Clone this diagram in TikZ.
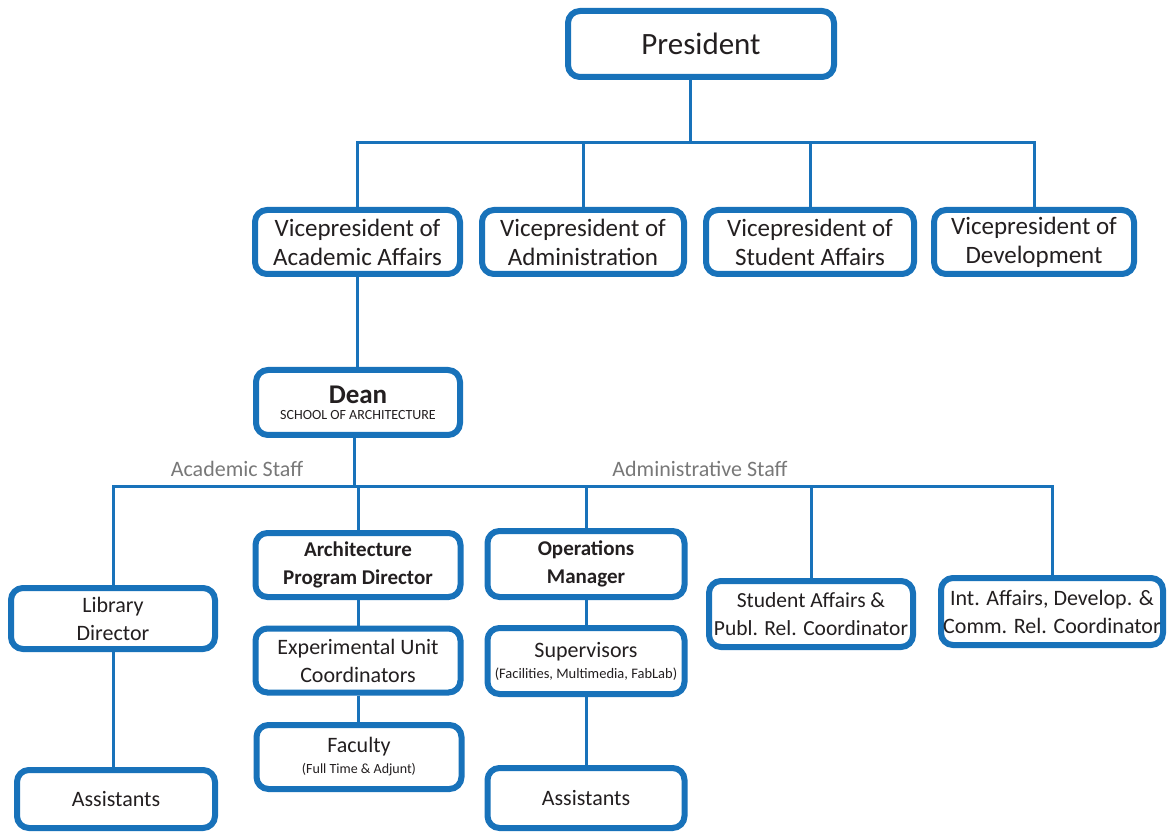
\documentclass[tikz,border=0pt]{standalone}
\usepackage{fontspec}
\setmainfont{Carlito}
\usetikzlibrary{positioning}
\definecolor{orgblue}{RGB}{24,114,186}
\definecolor{orgtext}{RGB}{35,31,32}
\definecolor{staffgray}{RGB}{120,120,120}
\newcommand{\orgsize}[2]{\fontsize{#1}{#2}\selectfont}

\begin{document}
\begin{tikzpicture}[x=1pt,y=-1pt,
  box/.style={draw=orgblue, line width=6pt, rounded corners=12pt, fill=white,
    align=center, text=orgtext, inner sep=0pt, font=\orgsize{22}{28}},
  vpbox/.style={box, minimum height=64pt, font=\orgsize{25}{29}},
  link/.style={draw=orgblue, line width=3pt},
  staff/.style={text=staffgray, inner sep=0pt, font=\orgsize{22}{26}}]
\useasboundingbox (0,0) rectangle (1171,834);

\node[box, minimum width=266pt, minimum height=66pt, font=\orgsize{31}{36}] (pres) at (701,44) {President};

\node[vpbox, minimum width=205pt] (vpa) at (357.5,242) {Vicepresident of\\Academic Affairs};
\node[vpbox, minimum width=202pt] (vpb) at (583,242) {Vicepresident of\\Administration};
\node[vpbox, minimum width=208pt] (vpc) at (810,242) {Vicepresident of\\Student Affairs};
\node[vpbox, minimum width=200pt] (vpd) at (1034,242) {Vicepresident of\\Development};

\node[box, minimum width=204pt, minimum height=65pt, font=\orgsize{27}{27}\bfseries] (dean) at (358,402.5) {Dean\\[-11pt]\mdseries\orgsize{14}{16}SCHOOL OF ARCHITECTURE};

\node[staff] (acad) at (237,469) {Academic Staff};
\node[staff] (admin) at (700,469) {Administrative Staff};

\node[box, minimum width=204pt, minimum height=61pt] (lib) at (113,618.5) {Library\\Director};
\node[box, minimum width=198pt, minimum height=58pt] (asst1) at (116,799) {Assistants};

\node[box, minimum width=205pt, minimum height=64pt, font=\orgsize{21}{28}\bfseries] (apd) at (358,565) {Architecture\\Program Director};
\node[box, minimum width=205pt, minimum height=64pt] (euc) at (358,660.5) {Experimental Unit\\Coordinators};
\node[box, minimum width=205pt, minimum height=64pt, font=\orgsize{22}{22}] (fac) at (359,757) {Faculty\\[-1pt]\orgsize{14}{17}(Full Time \& Adjunt)};

\node[box, minimum width=197pt, minimum height=66pt, font=\orgsize{21}{28}\bfseries] (ops) at (586,564) {Operations\\Manager};
\node[box, minimum width=197pt, minimum height=66pt, font=\orgsize{22}{22}] (sup) at (586,661) {Supervisors\\[-1pt]\orgsize{14.5}{17}(Facilities, Multimedia, FabLab)};
\node[box, minimum width=197pt, minimum height=60pt] (asst2) at (586,798) {Assistants};

\node[box, minimum width=204pt, minimum height=66pt, font=\orgsize{21.5}{28}] (saf) at (811,614) {Student Affairs \&\\Publ. Rel. Coordinator};
\node[box, minimum width=222pt, minimum height=67pt] (iaf) at (1052,611.5) {Int. Affairs, Develop. \&\\Comm. Rel. Coordinator};

\coordinate (topbus) at (690,143);
\coordinate (lowbus) at (354,486);

\begin{scope}[on background layer/.try]
\draw[link] (topbus) -- (topbus |- pres.south);
\draw[link] (vpa.north) |- (topbus) -| (vpd.north);
\draw[link] (vpb.north) -- (vpb.north |- topbus);
\draw[link] (vpc.north) -- (vpc.north |- topbus);
\draw[link] (vpa.south) -- (vpa.south |- dean.north);

\draw[link] (lowbus) -- (lowbus |- dean.south);
\draw[link] (lib.north) |- (lowbus) -| (iaf.north);
\draw[link] (apd.north) -- (apd.north |- lowbus);
\draw[link] (ops.north) -- (ops.north |- lowbus);
\draw[link] (saf.north) -- (saf.north |- lowbus);

\draw[link] (lib.south) -- (lib.south |- asst1.north);
\draw[link] (apd.south) -- (apd.south |- euc.north);
\draw[link] (euc.south) -- (euc.south |- fac.north);
\draw[link] (ops.south) -- (ops.south |- sup.north);
\draw[link] (sup.south) -- (sup.south |- asst2.north);
\end{scope}
\end{tikzpicture}
\end{document}
